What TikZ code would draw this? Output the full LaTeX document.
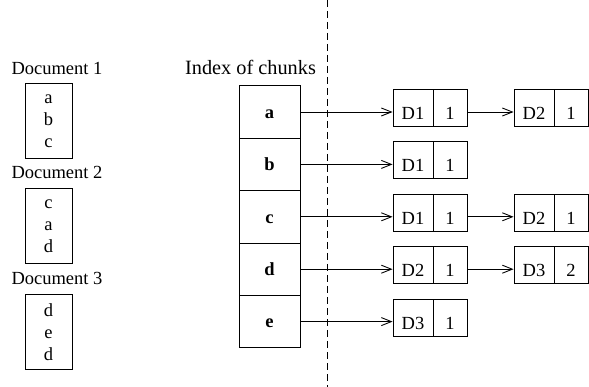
\documentclass[tikz,border=0pt]{standalone}
\usepackage{fontspec}
\setmainfont{Liberation Serif}
\usetikzlibrary{arrows.meta}
\begin{document}
\begin{tikzpicture}[x=1pt,y=-1pt,
  every node/.style={font=\fontsize{18.5}{22}\selectfont},
  box/.style={draw,line width=0.9pt,inner sep=0pt},
  docbox/.style={box,minimum width=47pt,minimum height=75pt,align=center},
  cell/.style={box,minimum width=61pt,minimum height=52.4pt,text height=12.5pt,text depth=0pt,font=\fontsize{18.5}{22}\selectfont\bfseries},
  dpart/.style={box,minimum width=40pt,minimum height=37pt,text height=23pt,text depth=0pt},
  cpart/.style={box,minimum width=34pt,minimum height=37pt,text height=23pt,text depth=0pt},
  lbl/.style={anchor=base,inner sep=0pt},
  arr/.style={line width=0.9pt,-{Straight Barb[length=10pt,width=8pt,line width=0.9pt]}}
]
\useasboundingbox (0,0) rectangle (589,387);

% documents
\node[lbl] (l1) at (57,75) {Document 1};
\node[docbox] (d1) at (48.5,121) {a\\b\\c};
\node[lbl] (l2) at (57,179) {Document 2};
\node[docbox] (d2) at (48.5,226) {c\\a\\d};
\node[lbl] (l3) at (57,285) {Document 3};
\node[docbox] (d3) at (48.5,332) {d\\e\\d};

% index of chunks
\node[lbl,font=\fontsize{20.3}{24}\selectfont] (li) at (250.5,75) {Index of chunks};
\node[cell] (ia) at (269.5,112) {a};
\node[cell] (ib) at (269.5,164.4) {b};
\node[cell] (ic) at (269.5,216.8) {c};
\node[cell] (id) at (269.5,269.2) {d};
\node[cell] (ie) at (269.5,321.6) {e};

% separator
\coordinate (st) at (327,0);
\coordinate (sb) at (327,387);
\draw[line width=0.9pt,dash pattern=on 7pt off 4pt] (st) -- (sb);

% posting lists
\node[dpart] (da1) at (413,108) {D1};
\node[cpart] (ca1) at (450,108) {1};
\node[dpart] (da2) at (534,108) {D2};
\node[cpart] (ca2) at (571,108) {1};

\node[dpart] (db1) at (413,160.4) {D1};
\node[cpart] (cb1) at (450,160.4) {1};

\node[dpart] (dc1) at (413,212.8) {D1};
\node[cpart] (cc1) at (450,212.8) {1};
\node[dpart] (dc2) at (534,212.8) {D2};
\node[cpart] (cc2) at (571,212.8) {1};

\node[dpart] (dd1) at (413,265.2) {D2};
\node[cpart] (cd1) at (450,265.2) {1};
\node[dpart] (dd2) at (534,265.2) {D3};
\node[cpart] (cd2) at (571,265.2) {2};

\node[dpart] (de1) at (413,317.6) {D3};
\node[cpart] (ce1) at (450,317.6) {1};

% pointers
\draw[arr] (ia.east) -- (ia.east -| da1.west);
\draw[arr] (ib.east) -- (ib.east -| db1.west);
\draw[arr] (ic.east) -- (ic.east -| dc1.west);
\draw[arr] (id.east) -- (id.east -| dd1.west);
\draw[arr] (ie.east) -- (ie.east -| de1.west);
\draw[arr] (ca1.east |- ia.east) -- (da2.west |- ia.east);
\draw[arr] (cc1.east |- ic.east) -- (dc2.west |- ic.east);
\draw[arr] (cd1.east |- id.east) -- (dd2.west |- id.east);
\end{tikzpicture}
\end{document}
